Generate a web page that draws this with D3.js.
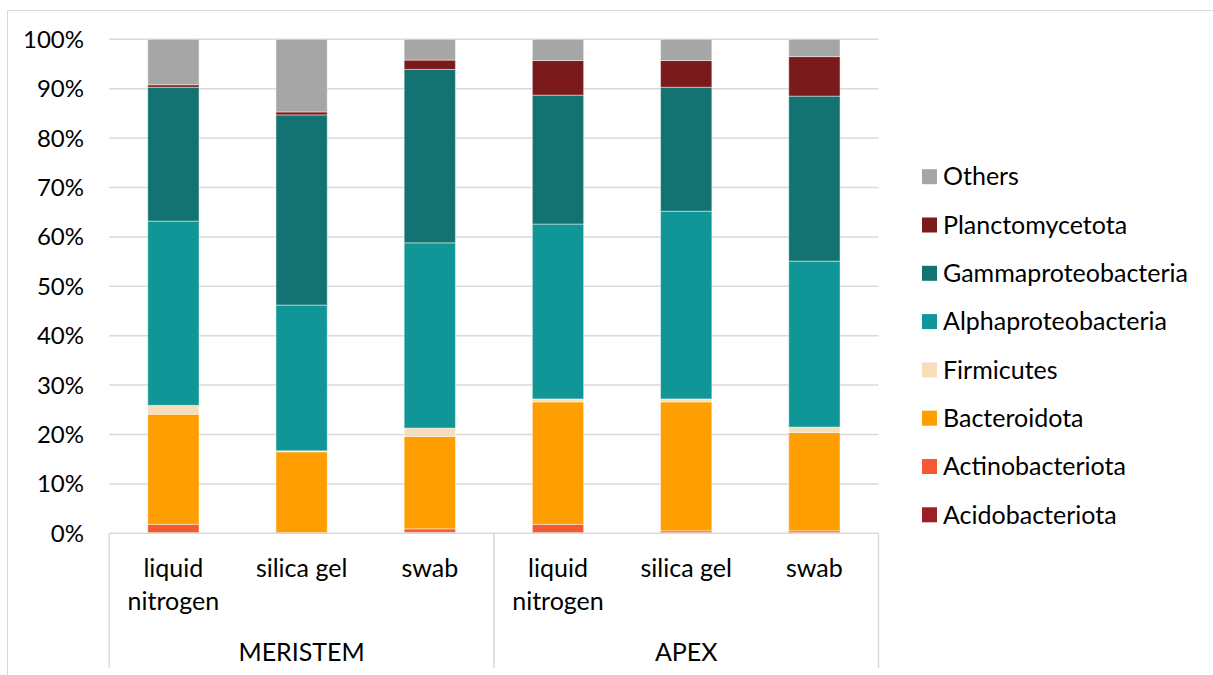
<!DOCTYPE html>
<html><head><meta charset="utf-8">
<script src="https://cdn.jsdelivr.net/npm/d3@7"></script>
<style>html,body{margin:0;padding:0;background:#fff;}svg{display:block;font-family:Lato,"Open Sans",sans-serif;}</style>
</head><body><svg id="c" width="1213" height="675"></svg>
<script>
const groups = ["MERISTEM","APEX"];
const methods = [["liquid","nitrogen"],["silica gel"],["swab"]];
const categories = ["MERISTEM|liquid nitrogen","MERISTEM|silica gel","MERISTEM|swab","APEX|liquid nitrogen","APEX|silica gel","APEX|swab"];
const seriesNames = ["Acidobacteriota","Actinobacteriota","Bacteroidota","Firmicutes","Alphaproteobacteria","Gammaproteobacteria","Planctomycetota","Others"];
const colors = ["#9B1F23","#F45A32","#FF9E00","#F5DEB9","#109696","#127372","#7B1A1A","#A6A6A6"];
const Acidobacteriota     = [0.1, 0.0, 0.2, 0.1, 0.1, 0.1];
const Actinobacteriota    = [1.7, 0.1, 0.7, 1.7, 0.4, 0.4];
const Bacteroidota        = [22.3,16.4,18.7,24.8,26.1,19.9];
const Firmicutes          = [1.8, 0.2, 1.7, 0.6, 0.6, 1.1];
const Alphaproteobacteria = [37.3,29.5,37.5,35.4,38.0,33.6];
const Gammaproteobacteria = [27.1,38.5,35.1,26.1,25.1,33.4];
const Planctomycetota     = [0.5, 0.6, 1.9, 7.0, 5.4, 8.0];
const Others              = [9.2,14.7, 4.2, 4.3, 4.3, 3.5];
const yTicks = [0,10,20,30,40,50,60,70,80,90,100];

const seriesValues = [Acidobacteriota,Actinobacteriota,Bacteroidota,Firmicutes,Alphaproteobacteria,Gammaproteobacteria,Planctomycetota,Others];
const table = categories.map((c,i)=>{const o={cat:c}; seriesNames.forEach((s,j)=>o[s]=seriesValues[j][i]); return o;});
const stack = d3.stack().keys(seriesNames)(table);

const svg = d3.select("#c");
const L=109.3, R=878.5, T=39.3, B=533.3;
const x = d3.scaleBand().domain(categories).range([L,R]).padding(0);
const y = d3.scaleLinear().domain([0,100]).range([B,T]);
const barW = x.bandwidth()*0.4;
const grid="#D9D9D9";
const fs=24, fsL=25;

// chart border
svg.append("rect").attr("x",7.5).attr("y",10.5).attr("width",1300).attr("height",800).attr("fill","none").attr("stroke",grid).attr("stroke-width",1);

// gridlines
svg.append("g").selectAll("line").data(yTicks.filter(t=>t>0)).join("line")
  .attr("x1",L).attr("x2",R).attr("y1",d=>y(d)).attr("y2",d=>y(d))
  .attr("stroke",grid).attr("stroke-width",1.5);

// y labels
svg.append("g").selectAll("text").data(yTicks).join("text")
  .attr("x",84).attr("y",d=>y(d)).attr("dy","0.35em").attr("text-anchor","end")
  .attr("font-size",fs).attr("fill","#000").text(d=>d+"%");

// bars
svg.append("g").selectAll("g").data(stack).join("g").attr("fill",(d,i)=>colors[i])
  .selectAll("rect").data(d=>d).join("rect")
  .attr("x",d=>x(d.data.cat)+(x.bandwidth()-barW)/2).attr("width",barW)
  .attr("y",d=>y(d[1])).attr("height",d=>Math.max(0,y(d[0])-y(d[1])))
  .attr("stroke","#fff").attr("stroke-opacity",0.45).attr("stroke-width",1);

// x axis line and separators
svg.append("line").attr("x1",L).attr("x2",R).attr("y1",B).attr("y2",B).attr("stroke",grid).attr("stroke-width",1.5);
const sepX=[L, x(categories[3]), R];
svg.append("g").selectAll("line").data(sepX).join("line")
  .attr("x1",d=>d).attr("x2",d=>d).attr("y1",B).attr("y2",668).attr("stroke",grid).attr("stroke-width",1.5);

// category labels
categories.forEach((c,i)=>{
  const m = methods[i%3];
  const t = svg.append("text").attr("x",x(c)+x.bandwidth()/2).attr("y",577).attr("text-anchor","middle").attr("font-size",fsL).attr("fill","#000");
  m.forEach((ln,k)=>t.append("tspan").attr("x",x(c)+x.bandwidth()/2).attr("dy",k===0?0:33).text(ln));
});
groups.forEach((g,gi)=>{
  svg.append("text").attr("x",(sepX[gi]+sepX[gi+1])/2).attr("y",661).attr("text-anchor","middle").attr("font-size",fsL).attr("fill","#000").text(g);
});

// legend
const legOrder = seriesNames.slice().reverse();
const lg = svg.append("g");
legOrder.forEach((s,i)=>{
  const cy = 176.7 + i*48.3;
  lg.append("rect").attr("x",922).attr("y",cy-7.5).attr("width",15).attr("height",15).attr("fill",colors[seriesNames.indexOf(s)]);
  lg.append("text").attr("x",943).attr("y",cy).attr("dy","0.35em").attr("font-size",fsL).attr("fill","#000").text(s);
});
</script></body></html>
